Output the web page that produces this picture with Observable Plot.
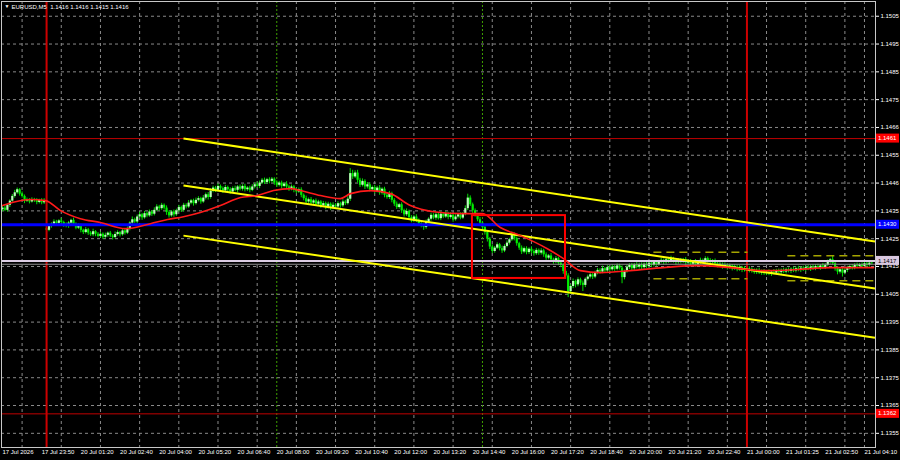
<!DOCTYPE html>
<html><head><meta charset="utf-8">
<script src="https://cdn.jsdelivr.net/npm/d3@7"></script>
<script src="https://cdn.jsdelivr.net/npm/@observablehq/plot@0.6"></script>
<style>
html,body{margin:0;padding:0;background:#000;}
#chart{width:900px;height:460px;overflow:hidden;}
svg{display:block;}
</style></head><body><div id="chart"></div>
<script>
// ---- data (prices in pips above basePrice) ----
const basePrice = 1.1400;
const firstOpen = 35.4;
const gapBar = 18, gapOpen = 28.6;
const closes = [
36.0,35.2,37.0,38.5,40.2,41.5,42.6,41.0,40.2,38.5,
39.0,38.2,39.0,38.6,38.0,38.8,37.9,38.5,28.0,29.5,
30.2,31.0,30.5,31.4,30.8,30.0,29.4,30.6,31.6,30.2,
28.8,29.6,28.0,27.2,28.2,27.0,26.4,27.5,26.6,25.8,
26.6,25.5,26.2,27.0,26.0,25.4,26.5,27.2,26.4,27.8,
27.0,28.4,30.6,31.8,31.0,32.8,33.6,32.5,34.0,33.2,
34.6,33.8,35.2,36.4,35.8,37.0,36.0,34.4,33.2,34.6,
33.6,35.0,36.2,35.2,37.0,36.4,37.8,38.6,37.6,38.8,
39.4,38.2,39.6,40.8,39.8,42.0,43.2,42.4,43.8,43.0,
42.2,43.4,42.6,41.8,43.0,42.4,43.6,42.8,43.8,42.6,
43.2,42.4,43.6,44.4,43.8,45.0,46.0,45.2,46.2,45.6,
46.4,45.0,44.2,45.0,43.8,44.6,43.6,42.8,43.6,42.4,
41.8,42.6,40.6,39.4,38.2,39.0,37.8,38.6,37.4,38.2,
36.8,37.6,36.2,37.4,36.0,37.0,36.4,37.6,36.8,38.2,
37.6,39.2,48.4,47.2,48.6,46.0,44.2,45.6,43.6,44.4,
42.6,43.4,42.0,43.2,41.4,42.8,40.6,39.8,41.2,38.8,
37.4,36.2,37.2,35.0,33.6,34.8,32.6,31.4,32.8,31.6,
30.4,29.6,29.0,30.8,32.0,33.4,32.4,33.6,32.2,33.8,
32.8,34.0,32.6,33.4,31.8,32.8,33.6,32.4,33.8,35.8,
39.6,37.2,35.0,33.6,31.8,30.6,29.0,27.2,24.8,22.0,
20.4,21.6,22.8,21.4,20.6,22.2,23.4,24.6,26.4,25.0,
23.2,21.6,20.2,21.4,20.0,21.2,20.4,19.6,20.8,19.8,
20.6,19.2,18.0,18.8,17.4,16.6,17.8,16.2,15.4,13.2,
11.6,6.0,7.8,9.6,8.4,10.2,9.0,8.2,10.4,11.2,
12.0,11.2,12.8,13.6,13.0,14.2,13.4,14.6,13.8,14.8,
14.0,15.2,14.4,11.0,13.2,14.6,15.4,14.2,15.6,14.8,
15.6,14.6,15.8,15.0,16.2,15.4,16.4,15.6,16.6,17.2,
16.4,17.4,16.8,17.8,17.0,16.4,17.2,16.6,17.4,16.2,
16.8,15.8,16.6,15.6,16.4,17.2,16.6,17.8,17.0,16.4,
17.0,16.0,15.2,15.8,14.8,15.4,14.4,15.2,14.2,14.8,
13.8,14.6,13.6,14.2,13.2,14.0,13.4,12.8,13.6,12.6,
13.2,12.4,13.0,12.2,13.0,12.6,13.4,12.8,13.6,13.0,
13.8,13.2,14.0,13.4,14.2,13.6,14.4,13.8,14.6,14.0,
14.8,14.2,15.0,14.4,15.2,14.6,15.4,16.6,17.4,16.0,
14.2,13.0,13.8,12.6,13.6,14.2,15.0,14.4,15.4,15.0,
15.6,15.0,16.0,15.4,16.2,16.0
];
const wickUp = [
0.6,0.8,0.4,0.5,0.7,0.9,0.6,0.4,0.8,0.5,
0.6,0.4,0.7,0.5,0.8,0.4,0.6,0.9,1.2,0.6,
0.5,0.8,0.6,0.4,0.9,0.5,0.7,0.6,0.4,0.8,
0.5,0.7,0.6,0.4,0.8,0.5,0.6,0.9,0.4,0.6,
0.7,0.5,0.8,0.4,0.6,0.5,0.9,0.6,0.4,0.7,
0.6,0.8,0.5,1.0,0.6,0.7,0.9,0.5,0.8,0.6,
0.7,0.5,0.9,0.8,0.6,0.7,0.5,0.8,0.6,0.5,
0.7,0.6,0.8,0.5,0.7,0.6,0.9,0.5,0.6,0.8,
0.7,0.5,0.9,0.6,0.8,1.0,0.7,0.6,0.9,0.5,
0.6,0.8,0.5,0.7,0.6,0.9,0.5,0.7,0.6,0.8,
0.5,0.7,0.8,0.6,0.9,0.7,0.6,0.8,0.5,0.7,
0.6,0.5,0.8,0.6,0.7,0.5,0.9,0.6,0.7,0.5,
0.8,0.6,0.7,0.5,0.9,0.6,0.8,0.5,0.7,0.6,
0.5,0.8,0.6,0.7,0.5,0.9,0.6,0.7,0.5,0.8,
0.6,0.9,1.8,1.2,0.8,1.0,0.7,0.9,0.6,0.8,
0.7,0.5,0.8,0.6,0.9,0.5,0.7,0.6,0.8,0.5,
0.6,0.8,0.5,0.7,0.6,0.9,0.5,0.7,0.6,0.8,
0.5,0.7,0.6,0.9,0.5,0.8,0.6,0.7,0.5,0.8,
0.6,0.7,0.5,0.9,0.6,0.8,0.5,0.7,0.6,1.0,
1.4,0.8,0.6,0.7,0.5,0.8,0.6,0.7,0.5,0.6,
0.8,0.6,0.7,0.5,0.9,0.6,0.8,0.5,1.0,0.7,
0.6,0.5,0.8,0.6,0.7,0.5,0.9,0.6,0.7,0.5,
0.8,0.6,0.7,0.5,0.9,0.6,0.8,0.5,0.7,0.6,
0.5,0.8,0.6,0.9,0.5,0.7,0.6,0.8,0.5,0.7,
0.6,0.8,0.5,0.7,0.6,0.9,0.5,0.7,0.6,0.8,
0.5,0.7,0.6,0.8,0.5,0.9,0.6,0.7,0.5,0.8,
0.6,0.7,0.5,0.9,0.6,0.8,0.5,0.7,0.6,0.8,
0.5,0.7,0.6,0.9,0.5,0.8,0.6,0.7,0.5,0.8,
0.6,0.7,0.5,0.9,0.6,0.8,0.5,0.7,0.6,0.8,
0.5,0.7,0.6,0.8,0.5,0.9,0.6,0.7,0.5,0.8,
0.6,0.7,0.5,0.8,0.6,0.9,0.5,0.7,0.6,0.8,
0.5,0.7,0.6,0.8,0.5,0.9,0.6,0.7,0.5,0.8,
0.6,0.7,0.5,0.8,0.6,0.9,0.5,0.7,0.6,0.8,
0.5,0.7,0.6,0.8,0.5,0.9,0.6,0.7,0.5,1.5,
0.6,0.7,0.5,0.8,0.6,0.9,0.5,0.7,0.6,0.8,
0.5,0.7,0.6,0.8,0.5,0.6
];
const wickDn = [
0.7,0.5,0.6,0.8,0.4,0.6,0.5,0.7,0.6,0.9,
0.5,0.7,0.4,0.6,0.8,0.5,0.7,0.6,0.9,0.5,
0.7,0.6,0.8,0.5,0.6,0.9,0.5,0.7,0.6,0.8,
0.6,0.5,0.9,0.7,0.5,0.8,0.6,0.7,0.9,0.5,
0.6,0.8,0.5,0.7,0.6,0.9,0.5,0.6,0.8,0.5,
0.7,0.5,0.6,0.8,0.5,0.7,0.6,0.9,0.5,0.7,
0.5,0.8,0.6,0.5,0.9,0.6,0.7,1.0,0.8,0.5,
0.9,0.6,0.5,0.8,0.6,0.7,0.5,0.6,0.9,0.5,
0.6,0.8,0.5,0.7,0.9,0.6,0.5,0.8,0.6,0.7,
0.9,0.5,0.7,0.8,0.6,0.5,0.9,0.6,0.7,0.8,
0.6,0.9,0.5,0.7,0.6,0.8,0.5,0.7,0.6,0.9,
0.5,0.8,0.7,0.6,0.9,0.5,0.7,0.8,0.6,0.9,
0.7,0.5,0.9,0.8,0.6,0.7,0.9,0.5,0.8,0.6,
0.9,0.6,0.8,0.5,0.9,0.6,0.7,0.5,0.8,0.6,
0.7,0.5,0.8,0.9,0.6,1.0,0.8,0.6,0.9,0.7,
0.8,0.6,0.9,0.5,0.8,0.7,0.9,0.6,0.7,0.9,
0.8,0.7,0.6,0.9,0.8,0.6,0.9,0.7,0.6,0.8,
0.9,0.7,1.0,0.6,0.5,0.7,0.6,0.8,0.5,0.7,
0.6,0.5,0.8,0.6,0.9,0.5,0.7,0.6,0.5,0.6,
0.7,0.6,0.9,0.8,0.7,0.9,0.8,0.9,1.0,0.9,
0.8,0.6,0.5,0.8,0.9,0.6,0.5,0.7,0.6,0.8,
0.9,0.8,0.9,0.6,0.8,0.7,0.8,0.9,0.6,0.8,
0.7,0.9,0.8,0.6,0.9,0.8,0.6,0.9,0.8,1.0,
1.2,2.2,1.0,0.8,1.1,0.7,0.9,2.2,0.8,0.6,
0.7,0.9,0.6,0.8,0.7,0.6,0.8,0.6,0.7,0.5,
0.8,0.6,0.7,2.2,0.8,0.6,0.7,0.9,0.6,0.7,
0.8,0.9,0.6,0.7,0.5,0.8,0.6,0.7,0.5,0.6,
0.8,0.6,0.7,0.5,0.8,0.9,0.6,0.7,0.5,0.8,
0.6,0.7,0.5,0.8,0.6,0.7,0.5,0.6,0.8,0.7,
0.6,0.8,0.7,0.5,0.8,0.6,0.7,0.5,0.8,0.6,
0.7,0.5,0.8,0.6,0.7,0.5,0.8,0.6,0.7,0.5,
0.8,0.6,0.7,0.5,0.8,0.6,0.7,0.5,0.8,0.6,
0.7,0.5,0.8,0.6,0.7,0.5,0.8,0.6,0.7,0.5,
0.8,0.6,0.7,0.5,0.8,0.6,0.7,0.5,0.8,0.6,
0.9,1.0,0.7,1.4,0.6,0.8,0.5,0.7,0.6,0.8,
0.6,0.7,0.5,0.8,0.6,0.5
];
// moving average (bar index, pips)
const maBars = [0,5.3,11.4,17.6,23.7,31.8,40,50.2,60.4,67.4,73.9,80.8,89,97.2,104.1,110.7,117.6,121.7,129.8,138,142.1,150.3,158.4,166.6,176,188.2,196,203.3,211.5,222.5,229.1,236,244.2,256.4,269.9,283.8,297.3,310.7,324.6,338.1,355.7];
const maPips = [36.9,38.3,39.1,38.7,35.1,32.2,30.8,28.6,30.4,31.9,32.9,34.4,36.9,39.8,40.5,42.3,43.0,42.3,40.5,39.4,41.2,42.3,41.2,36.9,34.7,34.0,34.0,29.0,26.1,21.4,17.8,13.5,12.8,13.5,14.6,15.3,14.6,13.5,13.9,14.6,14.6];
// time axis
const timeLabels = ["17 Jul 2026","17 Jul 23:50","20 Jul 01:20","20 Jul 02:40","20 Jul 04:00","20 Jul 05:20","20 Jul 06:40","20 Jul 08:00","20 Jul 09:20","20 Jul 10:40","20 Jul 12:00","20 Jul 13:20","20 Jul 14:40","20 Jul 16:00","20 Jul 17:20","20 Jul 18:40","20 Jul 20:00","20 Jul 21:20","20 Jul 22:40","21 Jul 00:00","21 Jul 01:25","21 Jul 02:50","21 Jul 04:10"];
const barsPerLabel = 16;
const gridBars = [8,24,40,56,72,88,104,120,136,152,168,184,200,216,232,248,264,280,296,312,328,344,352];
// price axis
const priceTicks = [1.1505,1.1495,1.1485,1.1475,1.1465,1.1455,1.1445,1.1435,1.1425,1.1415,1.1405,1.1395,1.1385,1.1375,1.1365,1.1355];
const priceTickLabels = ["1.1505","1.1495","1.1485","1.1475","1.1466","1.1455","1.1446","1.1435","1.1425","1.1415","1.1405","1.1395","1.1385","1.1375","1.1365","1.1355"];
// annotations
const redLevels = [1.1461, 1.1362];
const blueLevel = 1.1430;
const markLevel = 1.1417;
const bidLevel = 1.14158;
const daySepBars = [18, 304];
const sessionBars = [112, 196];
const channelBars = [73.9, 356.3];
const channelTop = [1.14610, 1.14240];
const channelMid = [1.14441, 1.14071];
const channelBot = [1.14261, 1.13894];
const boxBars = [191.9, 229.9];
const boxPrices = [1.14107, 1.14333];
const dashBars = [[265.8, 304.2], [320.5, 355.7], [265.8, 304.2], [320.5, 355.7]];
const dashPrices = [1.14201, 1.14189, 1.14106, 1.14099];
const titleText = "EURUSD,M5  1.1416 1.1416 1.1415 1.1416";
const priceTags = [
  {price: 1.1461, text: "1.1461", bg: "#ff0000", fg: "#ffffff"},
  {price: 1.1430, text: "1.1430", bg: "#0000ff", fg: "#ffffff"},
  {price: 1.1417, text: "1.1417", bg: "#d9c8e0", fg: "#000000"},
  {price: 1.1362, text: "1.1362", bg: "#ff0000", fg: "#ffffff"}
];

// ---- build ----
const P = v => basePrice + v / 10000;
const candles = closes.map((c, i) => {
  const o = i === 0 ? firstOpen : (i === gapBar ? gapOpen : closes[i - 1]);
  const hi = Math.max(o, c) + (wickUp[i] ?? 0);
  const lo = Math.min(o, c) - (wickDn[i] ?? 0);
  return {i, open: P(o), close: P(c), high: P(hi), low: P(lo), up: c >= o};
});
const ma = maBars.map((b, k) => ({bar: b, price: P(maPips[k])}));
const channels = [channelTop, channelMid, channelBot].map(p => ({x1: channelBars[0], x2: channelBars[1], y1: p[0], y2: p[1]}));
const dashes = dashBars.map((b, k) => ({x1: b[0], x2: b[1], y: dashPrices[k]}));
const tickBars = timeLabels.map((_, k) => k * barsPerLabel);
const priceLabelMap = new Map(priceTicks.map((t, k) => [t, priceTickLabels[k]]));

const font = "Liberation Sans, Arial, sans-serif";
const chart = Plot.plot({
  width: 900, height: 460,
  marginLeft: 1, marginRight: 25, marginTop: 1, marginBottom: 13,
  style: {background: "#000", color: "#fff", fontFamily: font, fontSize: "6px"},
  x: {domain: [-0.41, 356.5], axis: null},
  y: {domain: [1.13499, 1.15103], axis: null},
  marks: [
    Plot.gridY(priceTicks, {stroke: "#8a8a8a", strokeOpacity: 1, strokeDasharray: "3,3"}),
    Plot.gridX(gridBars, {stroke: "#8a8a8a", strokeOpacity: 1, strokeDasharray: "3,3"}),
    Plot.ruleX(sessionBars, {stroke: "#3fa000", strokeDasharray: "2,2", strokeWidth: 1}),
    Plot.ruleX(candles, {x: "i", y1: "low", y2: "high", stroke: "#00e000", strokeWidth: 1}),
    Plot.ruleX(candles.filter(d => !d.up), {x: "i", y1: "open", y2: "close", stroke: "#00f000", strokeWidth: 2.2}),
    Plot.ruleX(candles.filter(d => d.up), {x: "i", y1: "open", y2: "close", stroke: "#b8ffb8", strokeWidth: 2.2}),
    Plot.ruleX(daySepBars, {stroke: "#cc0000", strokeWidth: 2}),
    Plot.ruleY(redLevels, {stroke: "#c00000", strokeWidth: 1}),
    Plot.ruleY([bidLevel], {stroke: "#8c8c8c", strokeWidth: 1}),
    Plot.ruleY([markLevel], {stroke: "#dccde4", strokeWidth: 2}),
    Plot.ruleY([blueLevel], {stroke: "#0000ff", strokeWidth: 3}),
    Plot.link(dashes, {x1: "x1", x2: "x2", y1: "y", y2: "y", stroke: "#a5a500", strokeWidth: 1.5, strokeDasharray: "8,5"}),
    Plot.link(channels, {x1: "x1", x2: "x2", y1: "y1", y2: "y2", stroke: "#ffff00", strokeWidth: 2}),
    Plot.line(ma, {x: "bar", y: "price", stroke: "#ff1a1a", strokeWidth: 1.6, curve: "monotone-x"}),
    Plot.rect([{x1: boxBars[0], x2: boxBars[1], y1: boxPrices[0], y2: boxPrices[1]}], {x1: "x1", x2: "x2", y1: "y1", y2: "y2", fill: "none", stroke: "#ff0000", strokeWidth: 2}),
    Plot.frame({stroke: "#c8c8c8"}),
    Plot.axisY(priceTicks, {anchor: "right", tickSize: 3, tickPadding: 2, color: "#ffffff", fontSize: 6, tickFormat: d => priceLabelMap.get(d)}),
    Plot.axisX(tickBars, {anchor: "bottom", tickSize: 0, tickPadding: 2, textAnchor: "start", color: "#ffffff", fontSize: 6, tickFormat: d => timeLabels[d / barsPerLabel]}),
    Plot.text([titleText], {frameAnchor: "top-left", dx: 10, dy: 3, fill: "#ffffff", fontSize: 6, textAnchor: "start", lineAnchor: "top"}),
    Plot.text(["▼"], {frameAnchor: "top-left", dx: 3, dy: 3, fill: "#ffffff", fontSize: 5, textAnchor: "start", lineAnchor: "top"})
  ]
});

// price tags in the right margin, positioned with the plot's own scales
const ys = chart.scale("y");
const xs = chart.scale("x");
const svg = d3.select(chart);
const tagX = xs.range[1] + 1;
const tags = svg.append("g").attr("text-anchor", "start");
for (const t of priceTags) {
  const py = ys.apply(t.price);
  tags.append("rect").attr("x", tagX).attr("y", py - 4.5).attr("width", 23).attr("height", 9).attr("fill", t.bg);
  tags.append("text").attr("x", tagX + 2).attr("y", py).attr("dy", "0.35em")
    .attr("text-anchor", "start")
    .attr("fill", t.fg).attr("font-size", "6px").attr("font-family", font)
    .style("font-size", "6px").text(t.text);
}
document.getElementById("chart").appendChild(chart);
</script>
</body></html>
